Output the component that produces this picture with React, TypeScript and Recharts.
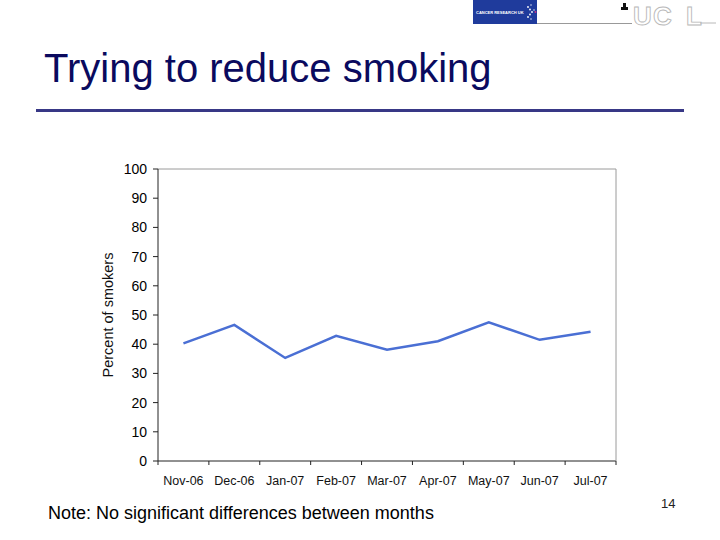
import { Line, LineChart, XAxis, YAxis } from "recharts";

// Survey months and the share of smokers trying to reduce
const MONTHS = [
  "Nov-06",
  "Dec-06",
  "Jan-07",
  "Feb-07",
  "Mar-07",
  "Apr-07",
  "May-07",
  "Jun-07",
  "Jul-07",
];
const TRYING_TO_REDUCE = [40.3, 46.6, 35.3, 42.9, 38.1, 41.0, 47.5, 41.5, 44.3];
const Y_TICKS = [0, 10, 20, 30, 40, 50, 60, 70, 80, 90, 100];

const FONT = '"Liberation Sans", Arial, sans-serif';
const LINE_BLUE = "#4a6fd4";
const AXIS_DARK = "#222222";
const FRAME_GREY = "#9a9a9a";

const chartData = MONTHS.map((month, idx) => ({
  idx,
  month,
  pct: TRYING_TO_REDUCE[idx],
}));

// half steps: boundaries get a tick mark, whole steps get the month label
const X_DOMAIN: [number, number] = [-0.5, MONTHS.length - 0.5];
const X_TICKS = Array.from({ length: MONTHS.length * 2 + 1 }, (_, k) => k / 2 - 0.5);

function MonthTick(props: any) {
  const { x, y, payload } = props;
  const v = payload.value as number;
  if (!Number.isInteger(v)) {
    return <line x1={x} x2={x} y1={y} y2={y + 4} stroke={AXIS_DARK} strokeWidth={1} />;
  }
  return (
    <text x={x} y={y + 24} textAnchor="middle" fontSize={12.5} fill="#111" fontFamily={FONT}>
      {MONTHS[v]}
    </text>
  );
}

function YTitle(props: any) {
  const vb = props.viewBox;
  const cx = vb.x + 10;
  const cy = vb.y + vb.height / 2;
  return (
    <text
      x={cx}
      y={cy}
      transform={`rotate(-90 ${cx} ${cy})`}
      textAnchor="middle"
      dominantBaseline="central"
      fontSize={14.5}
      fill="#111"
      fontFamily={FONT}
    >
      Percent of smokers
    </text>
  );
}

function Logos() {
  return (
    <svg width={720} height={30} style={{ position: "absolute", left: 0, top: 0 }}>
      <rect x={473} y={0} width={64} height={24} fill="#1f3b9c" />
      <text x={476} y={13.5} fontSize={4} fill="#fff" fontFamily={FONT} fontWeight="bold">
        CANCER RESEARCH UK
      </text>
      <g fill="#fff">
        <circle cx={528} cy={7} r={0.9} />
        <circle cx={530} cy={9.5} r={0.9} />
        <circle cx={532} cy={12} r={0.9} />
        <circle cx={530} cy={14.5} r={0.9} />
        <circle cx={528} cy={17} r={0.9} />
        <circle cx={531} cy={5} r={0.7} />
        <circle cx={534} cy={10} r={0.7} />
        <circle cx={531} cy={19} r={0.7} />
      </g>
      <circle cx={535.5} cy={12} r={1} fill="#c0308a" />
      <line x1={537} x2={632} y1={23.5} y2={23.5} stroke="#999" strokeWidth={1} />
      <g fill="#111">
        <rect x={621} y={7} width={7} height={3} />
        <rect x={623} y={3} width={3} height={4} />
      </g>
      <g fill="#fff" stroke="#b8b8b8" strokeWidth={0.9} fontFamily={FONT} fontWeight="bold" fontSize={26}>
        <text x={633} y={25}>U</text>
        <text x={653} y={25}>C</text>
        <text x={686} y={25}>L</text>
      </g>
      <line x1={700} x2={716} y1={23} y2={23} stroke="#b8b8b8" strokeWidth={1} />
    </svg>
  );
}

export default function App() {
  return (
    <div
      style={{
        position: "absolute",
        left: 0,
        top: 0,
        width: 720,
        height: 540,
        background: "#fff",
        fontFamily: FONT,
        overflow: "hidden",
      }}
    >
      <Logos />

      <div
        style={{
          position: "absolute",
          left: 44,
          top: 48,
          fontSize: 40,
          lineHeight: "40px",
          color: "#0a0a5e",
          whiteSpace: "nowrap",
        }}
      >
        Trying to reduce smoking
      </div>
      <div
        style={{
          position: "absolute",
          left: 36,
          top: 109,
          width: 648,
          height: 3,
          background: "#383886",
        }}
      />

      <div style={{ position: "absolute", left: 0, top: 0 }}>
        <LineChart
          width={720}
          height={540}
          data={chartData}
          margin={{ top: 168, right: 103, bottom: 49, left: 98 }}
        >
          <XAxis
            dataKey="idx"
            type="number"
            domain={X_DOMAIN}
            ticks={X_TICKS}
            interval={0}
            tick={MonthTick}
            tickLine={false}
            tickSize={0}
            tickMargin={0}
            axisLine={{ stroke: AXIS_DARK }}
            height={30}
          />
          <XAxis
            xAxisId="frame"
            orientation="top"
            dataKey="idx"
            type="number"
            domain={X_DOMAIN}
            tick={false}
            tickLine={false}
            axisLine={{ stroke: FRAME_GREY }}
            height={1}
          />
          <YAxis
            type="number"
            domain={[0, 100]}
            ticks={Y_TICKS}
            interval={0}
            tickSize={5}
            tickMargin={6}
            tick={{ fontSize: 14, fill: "#000", fontFamily: FONT }}
            tickLine={{ stroke: AXIS_DARK }}
            axisLine={{ stroke: AXIS_DARK }}
            width={60}
            label={<YTitle />}
          />
          <YAxis
            yAxisId="frame"
            orientation="right"
            type="number"
            domain={[0, 100]}
            tick={false}
            tickLine={false}
            axisLine={{ stroke: FRAME_GREY }}
            width={1}
          />
          <Line
            type="linear"
            dataKey="pct"
            stroke={LINE_BLUE}
            strokeWidth={2.5}
            dot={false}
            isAnimationActive={false}
          />
        </LineChart>
      </div>

      <div
        style={{
          position: "absolute",
          left: 48,
          top: 505,
          fontSize: 18,
          lineHeight: "17px",
          color: "#000",
          whiteSpace: "nowrap",
        }}
      >
        Note: No significant differences between months
      </div>
      <div
        style={{
          position: "absolute",
          left: 661,
          top: 497,
          fontSize: 13,
          lineHeight: "13px",
          color: "#222",
        }}
      >
        14
      </div>
    </div>
  );
}
